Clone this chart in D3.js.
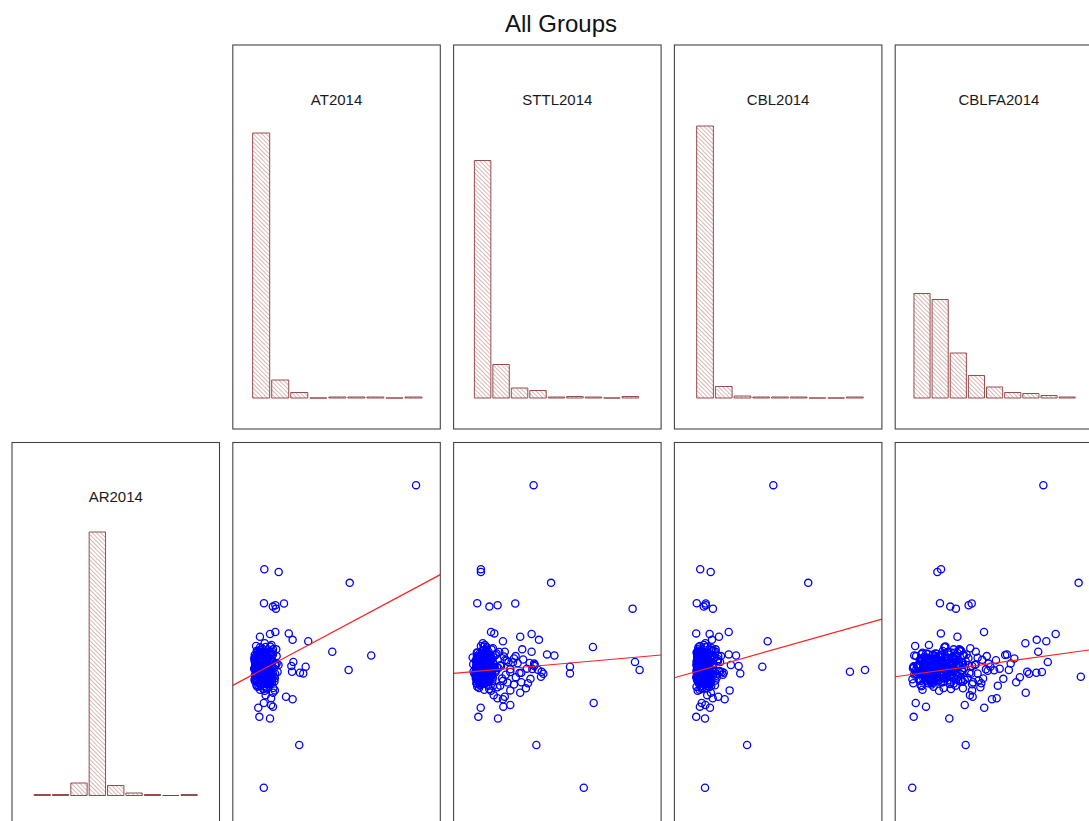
<!DOCTYPE html>
<html>
<head>
<meta charset="utf-8">
<script src="https://cdn.jsdelivr.net/npm/d3@7"></script>
<style>
body { margin: 0; background: #fff; }
svg { display: block; font-family: "Liberation Sans", Arial, sans-serif; }
</style>
</head>
<body>
<svg id="chart" width="1089" height="821"></svg>
<script>
// AR2014 is the response (row), the other four are predictors (columns)
var varNames = ["AR2014", "AT2014", "STTL2014", "CBL2014", "CBLFA2014"];

// observations, read off the scatter panels (same row index = same firm)
// first block: outliers and the loose edge of the cloud, second block: the dense core
var AR2014 = [8.86, 6.38, 6.30, 5.98, 5.38, 5.28, 5.32, 5.22, 5.37, 4.53, 4.49, 4.47, 4.39, 4.30, 4.26,
  4.09, 3.95, 3.84, 3.87, 3.65, 3.41, 3.51, 3.31, 3.36, 3.33, 3.21, 3.53, 3.56, 2.74, 3.02, 4.02, 3.82, 2.81,
  2.62, 2.55, 2.58, 2.03, 1.98, 2.44, 2.30, 2.38, 2.33, 2.67, 1.20, -0.06,
  3.52, 3.41, 3.63, 3.28, 3.75, 3.12, 3.88, 3.35, 3.58, 3.02,
  3.95, 3.22, 3.68, 3.47, 2.92, 4.05, 3.30, 3.80, 3.16, 3.55,
  2.85, 4.12, 3.38, 3.70, 3.08, 3.92, 3.25, 3.60, 2.98, 3.45,
  3.82, 3.18, 3.65, 3.33, 4.00, 2.88, 3.50, 3.10, 3.72, 3.40,
  3.85, 3.20, 3.57, 2.95, 3.78, 3.27, 3.62, 3.05, 4.08, 3.36,
  3.48, 3.90, 3.14, 3.67, 2.80, 3.43, 3.74, 3.23, 3.98, 3.53,
  3.00, 3.86, 3.30, 3.61, 3.12, 3.79, 3.44, 2.90, 4.15, 3.37,
  3.69, 3.07, 3.83, 3.26, 3.56, 2.83, 3.94, 3.19, 3.64, 3.34,
  3.76, 3.09, 3.51, 4.02, 2.96, 3.42, 3.71, 3.15, 3.59, 3.29,
  3.87, 3.04, 3.46, 3.73, 3.21, 3.66, 2.87, 3.97, 3.39, 3.54,
  3.11, 3.81, 3.24, 3.63, 2.93, 4.10, 3.32, 3.58, 3.17, 3.77,
  3.49, 3.01, 3.89, 3.27, 3.68, 3.13, 3.44, 3.84, 2.99, 3.55,
  3.45, 3.60, 3.20, 3.85, 3.30, 3.70, 3.05, 3.95, 3.40, 3.15, 4.20, 3.35, 2.95, 3.75,
  3.31, 3.48, 3.62, 3.19, 3.77, 3.55, 3.08, 3.42, 3.86, 3.27,
  3.69, 3.36, 3.14, 3.58, 3.93, 3.22, 3.47, 3.71, 3.05, 3.39,
  3.64, 3.29, 3.81, 3.12, 3.53, 3.44, 3.75, 3.18, 3.60, 3.34,
  3.90, 3.25, 3.50, 3.67, 3.03, 3.41, 3.79, 3.16, 3.57, 3.32,
  3.73, 3.21, 3.46, 3.88, 3.10, 3.63, 3.37, 3.54, 3.28, 3.82,
  3.13, 3.59, 3.43, 3.70, 3.24, 3.51, 3.96, 3.06, 3.66, 3.35,
  3.78, 3.20, 3.49, 3.61, 3.09, 3.40, 3.84, 3.26, 3.56, 3.72,
  3.15, 3.45, 3.68, 3.30, 3.91, 3.23, 3.52, 3.38, 3.80, 3.11,
  3.65, 3.33, 3.57, 3.17, 3.74, 3.46, 3.02, 3.62, 3.28, 3.87,
  3.40, 3.55, 3.19, 3.70, 3.31, 3.48, 3.83, 3.07, 3.59, 3.36,
  3.76, 3.22, 3.50, 3.64, 3.14, 3.43, 3.92, 3.27, 3.58, 3.39,
  3.69, 3.12, 3.47, 3.81, 3.25, 3.53, 3.35, 3.66, 3.04, 3.44,
  3.78, 3.30, 3.61, 3.18, 3.52, 3.85, 3.24, 3.41, 3.73, 3.10];

var AT2014 = [8.79, 0.53, 1.31, 5.18, 0.51, 0.99, 1.13, 1.16, 1.60, 1.13, 1.86, 0.84, 0.29, 2.07, 2.92,
  0.60, 4.23, 6.35, 1.00, 2.11, 5.12, 2.78, 2.65, 2.04, 2.47, 0.80, 2.00, 1.30, 1.00, 0.70, 1.00, 1.20, 1.10,
  1.71, 2.07, 0.90, 0.26, 0.84, 0.50, 0.20, 0.90, 1.00, 0.60, 2.43, 0.50,
  0.12, 0.35, 0.58, 0.81, 0.05, 0.44, 0.96, 0.20, 0.67, 0.30,
  0.52, 1.05, 0.00, 0.75, 0.15, 0.40, 0.90, 0.25, 0.62, 1.15,
  0.48, 0.08, 0.55, 0.85, 0.02, 0.70, 0.38, 1.20, 0.28, -0.02,
  0.60, 0.92, 0.18, 0.78, 0.32, 1.02, 0.45, 0.10, 0.65, 0.88,
  0.01, 0.50, 1.10, 0.22, 0.72, 0.05, 0.42, 0.95, 0.30, 0.68,
  0.15, 0.82, 0.35, 1.00, 0.55, 0.00, 0.38, 0.70, 0.12, 0.58,
  0.85, 0.25, 1.12, 0.48, 0.00, 0.78, 0.32, 0.62, 0.92, 0.18,
  0.52, 1.08, 0.08, 0.45, 0.75, 0.30, 0.98, 0.60, 0.22, 0.88,
  -0.02, 0.40, 0.68, 1.18, 0.10, 0.82, 0.35, 0.72, 0.05, 0.55,
  0.88, 0.28, 1.05, 0.42, 0.15, 0.95, 0.65, 0.20, 0.78, 0.45,
  0.95, 0.30, 0.62, 0.03, 0.48, 0.85, 0.20, 0.70, 1.10, 0.38,
  0.02, 0.80, 0.58, 0.25, 0.92, 0.40, 0.65, 0.12, 0.75, 0.32,
  0.50, 0.80, 0.30, 0.60, 1.00, 0.20, 0.70, 0.40, 0.90, 0.10, 0.55, 1.25, 0.35, 0.65,
  0.22, 0.48, 0.10, 0.65, 0.35, 0.05, 0.78, 0.28, 0.55, 0.15,
  0.42, 0.70, 0.02, 0.32, 0.60, 0.85, 0.18, 0.45, 0.38, 0.08,
  0.62, 0.25, 0.50, 0.12, 0.80, 0.40, 0.20, 0.58, 0.05, 0.72,
  0.30, 0.55, 0.15, 0.68, 0.42, 0.88, 0.10, 0.35, 0.52, 0.25,
  0.02, 0.62, 0.38, 0.18, 0.75, 0.28, 0.48, 0.08, 0.58, 0.40,
  0.70, 0.12, 0.45, 0.32, 0.60, 0.20, 0.82, 0.50, 0.05, 0.65,
  0.35, 0.88, 0.22, 0.52, 0.15, 0.72, 0.42, 0.02, 0.30, 0.58,
  0.48, 0.10, 0.65, 0.38, 0.25, 0.78, 0.18, 0.55, 0.08, 0.45,
  0.32, 0.68, 0.12, 0.50, 0.40, 0.22, 0.62, 0.85, 0.05, 0.35,
  0.58, 0.28, 0.75, 0.15, 0.48, 0.02, 0.38, 0.70, 0.25, 0.52,
  0.10, 0.45, 0.30, 0.80, 0.60, 0.18, 0.42, 0.08, 0.65, 0.35,
  0.55, 0.20, 0.72, 0.40, 0.05, 0.50, 0.88, 0.28, 0.62, 0.12,
  0.45, 0.32, 0.15, 0.58, 0.78, 0.25, 0.40, 0.68, 0.10, 0.52];

var STTL2014 = [3.17, 0.30, 0.30, 4.12, 0.10, 0.76, 1.21, 8.56, 2.17, 0.85, 1.03, 3.06, 2.44, 3.46, 1.50,
  6.40, 3.06, 4.30, 3.90, 8.69, 8.94, 5.15, 5.15, 3.61, 2.50, 3.57, 3.20, 3.23, 2.44, 2.86, 2.55, 2.19, 1.90,
  1.60, 1.50, 1.20, 0.16, 1.23, 6.44, 0.29, 1.90, 1.52, 1.00, 3.32, 5.90,
  0.05, 0.22, 0.41, 0.63, 0.88, 0.15, 0.33, 1.10, -0.12, 0.52,
  0.72, 0.28, 0.45, 1.25, 0.10, 0.95, 0.60, 0.18, 1.45, 0.38,
  0.75, 0.30, 0.08, 1.60, 0.55, 0.12, 0.90, 0.48, 2.10, 0.25,
  0.68, 0.05, 1.80, 0.35, 0.58, 0.20, 1.05, 0.42, 2.60, 0.15,
  0.82, 0.32, 0.70, 1.35, -0.15, 0.50, 2.95, 0.25, 0.62, 0.92,
  0.40, 1.15, 0.12, 0.55, 0.85, 1.90, 0.22, 0.65, 0.38, 1.40,
  0.08, 0.78, 0.45, 2.30, 0.18, 0.98, 0.30, 1.20, 0.52, -0.10,
  1.70, 0.62, 0.28, 0.85, 0.15, 0.48, 1.30, 0.35, 2.05, 0.72,
  0.10, 1.50, 0.42, 0.88, 0.25, 3.40, 0.58, 0.05, 1.00, 0.20,
  0.65, 1.75, 0.32, 0.90, 0.48, 0.12, 2.75, 0.40, 1.08, 0.70,
  0.30, 1.55, 0.58, 0.18, 0.95, 0.45, 2.40, 0.05, 0.80, 0.35,
  1.18, 0.52, 0.22, 1.65, 0.62, 0.10, 3.10, 0.75, 0.35, 1.35,
  2.80, 3.20, 2.20, 1.10, 3.70, 0.80, 2.50, 1.60, 0.60, 3.00, 0.40, 1.90, 0.70, 2.10,
  0.15, 0.35, 0.62, 0.05, 0.28, 0.80, 0.45, 0.12, 0.55, 0.92,
  0.02, 0.40, 0.70, 0.22, 0.08, 0.50, 0.85, 0.30, 0.18, 0.65,
  0.42, -0.05, 0.25, 0.75, 0.58, 0.10, 0.38, 0.95, 0.20, 0.48,
  0.68, 0.15, 0.88, 0.32, 0.05, 0.55, 0.25, 0.78, 0.42, 0.12,
  0.60, 0.35, 0.02, 0.72, 0.28, 0.50, 0.90, 0.18, 0.40, 0.08,
  0.82, 0.45, 0.22, 0.62, 0.10, 0.35, 0.55, 0.28, 0.75, 0.00,
  0.48, 0.18, 0.68, 0.38, 0.92, 0.05, 0.30, 0.58, 0.12, 0.42,
  0.25, 0.70, 0.08, 0.52, 0.35, 0.85, 0.15, 0.45, 0.62, 0.20,
  0.95, 0.32, 0.55, 0.02, 0.40, 0.72, 0.22, 0.10, 0.48, 0.65,
  0.18, 0.60, 0.38, 0.85, 0.05, 0.28, 0.50, 0.75, 0.15, 0.42,
  0.70, 0.08, 0.32, 0.55, 0.25, 0.90, 0.45, 0.12, 0.35, 0.62,
  0.02, 0.48, 0.80, 0.20, 0.58, 0.10, 0.38, 0.68, 0.28, 0.52,
  0.15, 0.75, 0.42, 0.05, 0.88, 0.30, 0.60, 0.18, 0.50, 0.35];

var CBL2014 = [4.20, 0.22, 0.79, 6.10, 0.03, 0.41, 0.52, 0.91, 0.52, 1.77, 0.00, 0.73, 1.24, 0.86, 3.89,
  0.50, 1.06, 2.17, 1.77, 1.30, 9.19, 3.60, 2.40, 8.37, 1.50, 0.60, 2.31, 1.89, 0.80, 0.40, 1.06, 1.20, 1.82,
  1.20, 1.55, 0.90, 0.00, 0.48, 0.30, 0.75, 0.50, 0.20, 0.60, 2.77, 0.48,
  0.10, 0.31, 0.05, 0.52, 0.22, 0.75, 0.40, 0.12, 0.95, 0.28,
  0.60, 0.18, 0.70, 0.35, 0.02, 0.85, 1.10, 0.45, 0.08, 0.55,
  0.30, 0.20, 1.25, 0.15, 0.62, 0.38, 0.90, 0.25, 0.48, 0.05,
  1.35, 0.42, 0.68, 0.14, 0.80, 0.32, 0.58, 1.05, 0.10, 0.72,
  0.28, 0.00, 0.50, 0.82, 0.18, 1.45, 0.36, 0.65, 0.12, 0.92,
  0.30, 0.55, 0.25, 1.18, 0.08, 0.45, 0.75, 0.20, 0.95, 0.40,
  0.58, 0.15, 0.85, 0.05, 0.35, 1.00, 0.22, 0.70, 0.42, 1.30,
  0.28, 0.10, 0.62, 0.48, 0.88, 0.18, 0.32, 1.12, 0.52, 0.02,
  0.78, 0.38, 0.65, 0.10, 1.02, 0.25, 0.48, 0.58, 0.15, 0.95,
  0.35, 0.72, 0.08, 1.20, 0.45, 0.30, 0.55, 0.88, 0.20, 0.68,
  0.40, 0.12, 1.08, 0.50, 0.25, 0.62, 0.80, 0.05, 0.58, 0.32,
  0.90, 0.15, 0.70, 0.38, 1.15, 0.22, 0.48, 0.08, 0.75, 0.30,
  0.40, 0.60, 0.20, 0.90, 0.30, 0.50, 0.80, 0.10, 0.70, 0.35, 0.50, 1.40, 0.60, 0.25,
  0.12, 0.40, 0.28, 0.05, 0.55, 0.20, 0.68, 0.35, 0.08, 0.48,
  0.25, 0.15, 0.60, 0.42, 0.02, 0.72, 0.32, 0.10, 0.52, 0.22,
  0.38, 0.65, 0.05, 0.30, 0.18, 0.58, 0.45, 0.12, 0.75, 0.28,
  0.50, 0.08, 0.35, 0.62, 0.22, 0.15, 0.42, 0.70, 0.02, 0.55,
  0.32, 0.48, 0.18, 0.08, 0.65, 0.38, 0.25, 0.52, 0.12, 0.78,
  0.42, 0.28, 0.60, 0.05, 0.35, 0.50, 0.15, 0.72, 0.22, 0.45,
  0.10, 0.58, 0.32, 0.20, 0.68, 0.02, 0.40, 0.55, 0.28, 0.15,
  0.62, 0.38, 0.08, 0.48, 0.25, 0.70, 0.12, 0.35, 0.52, 0.05,
  0.30, 0.18, 0.65, 0.42, 0.10, 0.58, 0.28, 0.45, 0.75, 0.20,
  0.50, 0.02, 0.38, 0.25, 0.62, 0.15, 0.48, 0.32, 0.08, 0.55,
  0.22, 0.68, 0.12, 0.40, 0.30, 0.52, 0.05, 0.60, 0.35, 0.18,
  0.45, 0.28, 0.72, 0.10, 0.55, 0.38, 0.20, 0.02, 0.48, 0.65,
  0.32, 0.12, 0.58, 0.25, 0.42, 0.08, 0.62, 0.35, 0.18, 0.50];

var CBLFA2014 = [6.88, 1.31, 1.11, 8.80, 1.25, 1.81, 2.81, 2.12, 2.98, 3.65, 1.30, 7.55, 2.20, 6.52, 7.04,
  1.50, 3.20, 2.50, 4.90, 7.12, 5.00, 4.00, 3.30, 6.00, 6.50, 8.92, 3.00, 2.50, 5.92, 3.50, 2.00, 3.80, 3.00,
  3.03, 4.08, 4.34, -0.18, 1.76, -0.07, 3.66, 2.60, 0.49, 2.88, 2.65, -0.26,
  -0.18, 0.85, 1.40, 0.35, 1.95, 2.60, 0.60, 1.10, 3.20, -0.20,
  1.70, 2.25, 0.45, 1.55, 0.90, 2.90, 0.15, 1.25, 3.60, 0.70,
  1.85, -0.10, 2.45, 1.05, 0.55, 2.05, 1.35, 3.90, 0.80, 1.60,
  -0.05, 2.75, 1.15, 0.40, 2.35, 1.45, 0.95, 3.35, 0.25, 1.75,
  2.55, 0.65, 1.30, 2.10, 0.50, 1.90, 0.75, 3.05, 1.50, 0.20,
  2.20, 1.00, -0.25, 2.65, 1.20, 3.75, 0.60, 1.65, 2.40, 0.35,
  1.80, 0.85, 2.95, 1.35, 0.45, 2.15, 1.05, 3.45, 0.65, 1.95,
  0.15, 2.50, 1.25, 0.90, 3.15, 0.30, 1.70, 2.00, 0.55, 1.45,
  2.80, 0.75, 1.15, 2.30, 0.20, 1.60, 3.55, 0.95, 1.85, 0.40,
  2.70, 1.30, -0.22, 2.05, 1.10, 0.70, 2.50, 1.40, 3.85, 0.50,
  1.75, 2.20, 0.80, 1.90, 0.25, 1.55, 2.85, 0.95, 1.45, 3.30,
  0.35, 2.00, 1.05, 1.65, 0.60, 2.40, 1.20, -0.15, 3.00, 1.80,
  4.50, 5.10, 5.60, 4.80, 6.10, 4.30, 5.40, 6.60, 4.20, 4.70, 5.90, 6.80, 4.40, 5.30,
  0.30, 1.10, 2.05, 0.65, 1.50, 0.05, 2.40, 0.90, 1.75, 0.45,
  1.30, 2.20, 0.15, 1.00, 1.85, 0.55, 2.55, 0.80, 1.40, -0.10,
  1.15, 0.35, 1.95, 0.70, 2.30, 1.25, 0.20, 1.60, 0.95, 2.10,
  0.50, 1.45, -0.20, 1.80, 0.85, 2.45, 0.40, 1.20, 0.10, 1.65,
  2.00, 0.75, 1.35, 0.25, 2.25, 1.05, 0.60, 1.90, -0.05, 1.55,
  0.90, 2.15, 0.30, 1.70, 1.10, 0.45, 2.35, 0.80, 1.40, 0.00,
  1.95, 0.65, 1.25, 2.50, 0.20, 1.50, 0.95, 1.80, 0.55, 2.05,
  0.35, 1.60, 1.00, 0.10, 2.20, 0.70, 1.30, 1.85, 0.40, 1.15,
  2.40, 0.85, 0.15, 1.45, 1.05, 2.00, 0.60, 1.75, -0.15, 1.35,
  0.50, 2.30, 1.20, 0.25, 1.65, 0.90, 2.10, 0.75, 1.50, 0.05,
  1.90, 0.40, 1.10, 2.45, 0.65, 1.55, 0.30, 1.00, 2.25, 0.80,
  1.40, 0.10, 1.70, 0.95, 2.15, 0.55, 1.25, 0.20, 1.85, 0.70,
  1.05, 2.35, 0.45, 1.60, 0.00, 1.30, 0.85, 2.05, 0.35, 1.20];

// histogram counts, 9 bins per variable (whole sample)
var histAR2014 = [2, 2, 25, 527, 20, 5, 2, 0, 2];
var histAT2014 = [530, 36, 11, 0, 2, 2, 2, 0, 2];
var histSTTL2014 = [475, 67, 20, 15, 2, 3, 2, 0, 3];
var histCBL2014 = [544, 23, 4, 2, 2, 2, 0, 0, 2];
var histCBLFA2014 = [209, 197, 90, 45, 22, 11, 9, 5, 2];
// histogram range (first break, last break), same order as varNames
var histLo = [-0.04, -0.16, -0.11, -0.03, -0.22];
var histHi = [8.96, 9.17, 8.94, 9.15, 8.67];

// least squares fit AR2014 ~ predictor, one per column
var fitIntercept = [3.30, 3.37, 3.365, 3.30];
var fitSlope = [0.289, 0.0478, 0.153, 0.0748];

var series = [AR2014, AT2014, STTL2014, CBL2014, CBLFA2014];
var hists = [histAR2014, histAT2014, histSTTL2014, histCBL2014, histCBLFA2014];
var nObs = d3.min(series, s => s.length);

// layout
const panelW = 207.5,
    panelH = 384,
    colStep = 220.8,
    rowStep = 397.5,
    left0 = 12,
    top0 = 45,
    histColor = "#8b3a3a";

const colLeft = c => left0 + c * colStep;
const rowTop = r => top0 + r * rowStep;

const svg = d3.select("#chart");
const defs = svg.append("defs");

// diagonal hatching for the histogram bars
defs.append("pattern")
    .attr("id", "hatch")
    .attr("patternUnits", "userSpaceOnUse")
    .attr("width", 3)
    .attr("height", 3)
    .attr("patternTransform", "rotate(-45)")
    .append("line")
    .attr("x1", 0).attr("y1", 0)
    .attr("x2", 0).attr("y2", 3)
    .attr("stroke", "#a85555")
    .attr("stroke-width", 0.85);

// x scale of each variable (same for its histogram and its scatter column)
const xScales = varNames.map((v, c) => d3.scaleLinear()
    .domain([0, 9])
    .range([colLeft(c) + 21.8, colLeft(c) + 21.8 + 165.3]));

// y scale of the response row
const yAR = d3.scaleLinear()
    .domain([0, 9])
    .range([rowTop(1) + panelH - 40.8, rowTop(1) + 37.9]);

svg.append("text")
    .attr("x", 561)
    .attr("y", 32)
    .attr("text-anchor", "middle")
    .attr("font-size", "24px")
    .attr("fill", "#111")
    .text("All Groups");

function panelFrame(c, r) {
    svg.append("rect")
        .attr("x", colLeft(c))
        .attr("y", rowTop(r))
        .attr("width", panelW)
        .attr("height", panelH)
        .attr("fill", "none")
        .attr("stroke", "#444")
        .attr("stroke-width", 1.1);
}

function drawHist(c, r) {
    const counts = hists[c];
    const xs = xScales[c];
    const base = rowTop(r) + panelH - 31;
    const ys = d3.scaleLinear().domain([0, 600]).range([base, base - 300]);
    const step = (histHi[c] - histLo[c]) / counts.length;

    const g = svg.append("g");
    g.selectAll("path.bar").data(counts).join("path")
        .attr("class", "bar")
        .attr("d", (d, i) => {
            const x0 = xs(histLo[c] + i * step) + 1,
                x1 = xs(histLo[c] + (i + 1) * step) - 1;
            // path (not rect) so that empty bins still draw a flat line
            return `M${x0},${base}V${ys(d)}H${x1}V${base}Z`;
        })
        .attr("fill", "url(#hatch)")
        .attr("stroke", histColor)
        .attr("stroke-width", 0.9);

    g.append("text")
        .attr("x", colLeft(c) + panelW / 2)
        .attr("y", rowTop(r) + 59.5)
        .attr("text-anchor", "middle")
        .attr("font-size", "15px")
        .attr("fill", "#1a1a1a")
        .text(varNames[c]);

    panelFrame(c, r);
}

function drawScatter(c) {
    const xs = xScales[c];
    const xv = series[c];
    const L = colLeft(c), T = rowTop(1);

    defs.append("clipPath").attr("id", "clip" + c)
        .append("rect")
        .attr("x", L).attr("y", T)
        .attr("width", panelW).attr("height", panelH);

    const g = svg.append("g").attr("clip-path", `url(#clip${c})`);

    g.selectAll("circle").data(d3.range(nObs)).join("circle")
        .attr("cx", i => xs(xv[i]))
        .attr("cy", i => yAR(AR2014[i]))
        .attr("r", 3.6)
        .attr("fill", "none")
        .attr("stroke", "#0000ff")
        .attr("stroke-width", 1.3);

    // fitted line across the whole panel
    const a = fitIntercept[c - 1], b = fitSlope[c - 1];
    const xa = xs.invert(L), xb = xs.invert(L + panelW);
    g.append("line")
        .attr("x1", xs(xa)).attr("y1", yAR(a + b * xa))
        .attr("x2", xs(xb)).attr("y2", yAR(a + b * xb))
        .attr("stroke", "#ff2020")
        .attr("stroke-width", 1.2);

    panelFrame(c, 1);
}

// top row: predictor histograms
for (let c = 1; c < varNames.length; c++) drawHist(c, 0);
// bottom row: response histogram + scatter panels
drawHist(0, 1);
for (let c = 1; c < varNames.length; c++) drawScatter(c);
</script>
</body>
</html>
